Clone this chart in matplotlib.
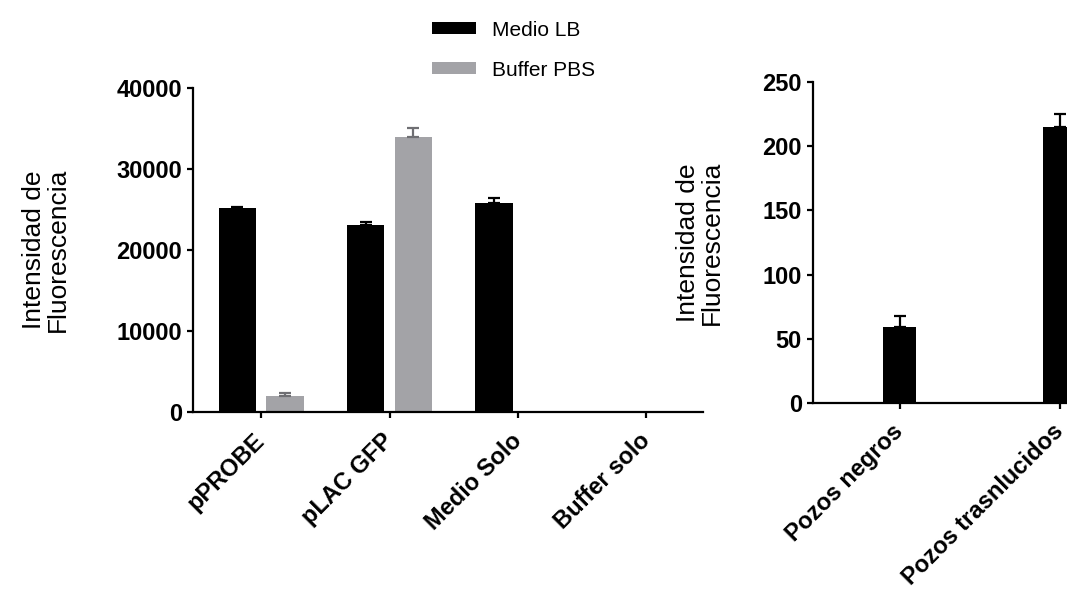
"""
Fluorescence intensity: LB medium vs PBS buffer (left) and black vs translucent wells (right).
"""
import matplotlib
matplotlib.use("Agg")
import matplotlib.pyplot as plt
import matplotlib.transforms as mtransforms
import numpy as np

plt.rcParams["font.family"] = ["Liberation Sans", "DejaVu Sans"]

# left panel
CATS_LEFT = ["pPROBE", "pLAC GFP", "Medio Solo", "Buffer solo"]
MEDIO_LB = [25200, 23100, 25800, 0]
MEDIO_LB_ERR = [150, 300, 600, 0]
BUFFER_PBS = [2000, 34000, 0, 0]
BUFFER_PBS_ERR = [300, 1100, 0, 0]

# right panel
CATS_RIGHT = ["Pozos negros", "Pozos trasnlucidos"]
POZOS = [59, 215]
POZOS_ERR = [9, 10]

BLACK = "#000000"
GRAY = "#a3a3a7"
LW = 1.6
TICK_FS = 17


def up_errors(ax, xpos, vals, errs, color):
    # one-sided (upward) error bars, skipped where there is no error
    xpos = np.asarray(xpos, dtype=float)
    vals = np.asarray(vals, dtype=float)
    errs = np.asarray(errs, dtype=float)
    keep = errs > 0
    ax.errorbar(xpos[keep], vals[keep], yerr=[np.zeros(keep.sum()), errs[keep]],
                fmt="none", ecolor=color, elinewidth=LW, capthick=LW, capsize=4.5)


def style_axis(ax, fig):
    for side in ("top", "right"):
        ax.spines[side].set_visible(False)
    for side in ("left", "bottom"):
        ax.spines[side].set_linewidth(LW)
    ax.tick_params(axis="both", width=LW, length=4.5, labelsize=TICK_FS)
    shift = mtransforms.ScaledTranslation(-8 / 100, -6 / 100, fig.dpi_scale_trans)
    for lab in ax.get_yticklabels():
        lab.set_fontweight("bold")
    for lab in ax.get_xticklabels():
        lab.set_fontweight("bold")
        lab.set_transform(lab.get_transform() + shift)


def main():
    fig = plt.figure(figsize=(10.67, 5.94), dpi=100)

    # ---- left panel ----
    ax1 = fig.add_axes([193 / 1067, 1 - 412 / 594, (703 - 193) / 1067, (412 - 88) / 594])
    x = np.arange(len(CATS_LEFT))
    w = 0.29
    off = 0.186
    ax1.bar(x - off, MEDIO_LB, w, color=BLACK, label="Medio LB")
    ax1.bar(x + off, BUFFER_PBS, w, color=GRAY, label="Buffer PBS")
    up_errors(ax1, x - off, MEDIO_LB, MEDIO_LB_ERR, BLACK)
    up_errors(ax1, x + off, BUFFER_PBS, BUFFER_PBS_ERR, "#6f6f73")
    ax1.set_xlim(-0.53, 3.44)
    ax1.set_ylim(0, 40000)
    ax1.set_yticks([0, 10000, 20000, 30000, 40000])
    ax1.set_xticks(x)
    ax1.set_xticklabels(CATS_LEFT, rotation=45, ha="right", rotation_mode="anchor")
    ax1.set_ylabel("Intensidad de\nFluorescencia", fontsize=19, linespacing=1.0)
    ax1.yaxis.set_label_coords(-0.241, 0.5)
    style_axis(ax1, fig)

    # ---- right panel (extends past the figure edge) ----
    ax2 = fig.add_axes([813 / 1067, 1 - 403 / 594, 330 / 1067, (403 - 82) / 594])
    xr = np.arange(len(CATS_RIGHT))
    ax2.bar(xr, POZOS, 0.21, color=BLACK)
    up_errors(ax2, xr, POZOS, POZOS_ERR, BLACK)
    ax2.set_xlim(-0.54, 1.52)
    ax2.set_ylim(0, 250)
    ax2.set_yticks([0, 50, 100, 150, 200, 250])
    ax2.set_xticks(xr)
    ax2.set_xticklabels(CATS_RIGHT, rotation=45, ha="right", rotation_mode="anchor")
    ax2.set_ylabel("Intensidad de\nFluorescencia", fontsize=19, linespacing=1.0)
    ax2.yaxis.set_label_coords(-0.27, 0.5)
    style_axis(ax2, fig)

    h, l = ax1.get_legend_handles_labels()
    fig.legend(h, l, loc="upper left", bbox_to_anchor=(413 / 1067, 1 - 2 / 594),
               frameon=False, fontsize=15, handlelength=2.1, handleheight=0.5,
               handletextpad=0.8, labelspacing=1.0)

    fig.savefig("out.png", dpi=100)
    plt.close(fig)


if __name__ == "__main__":
    main()
